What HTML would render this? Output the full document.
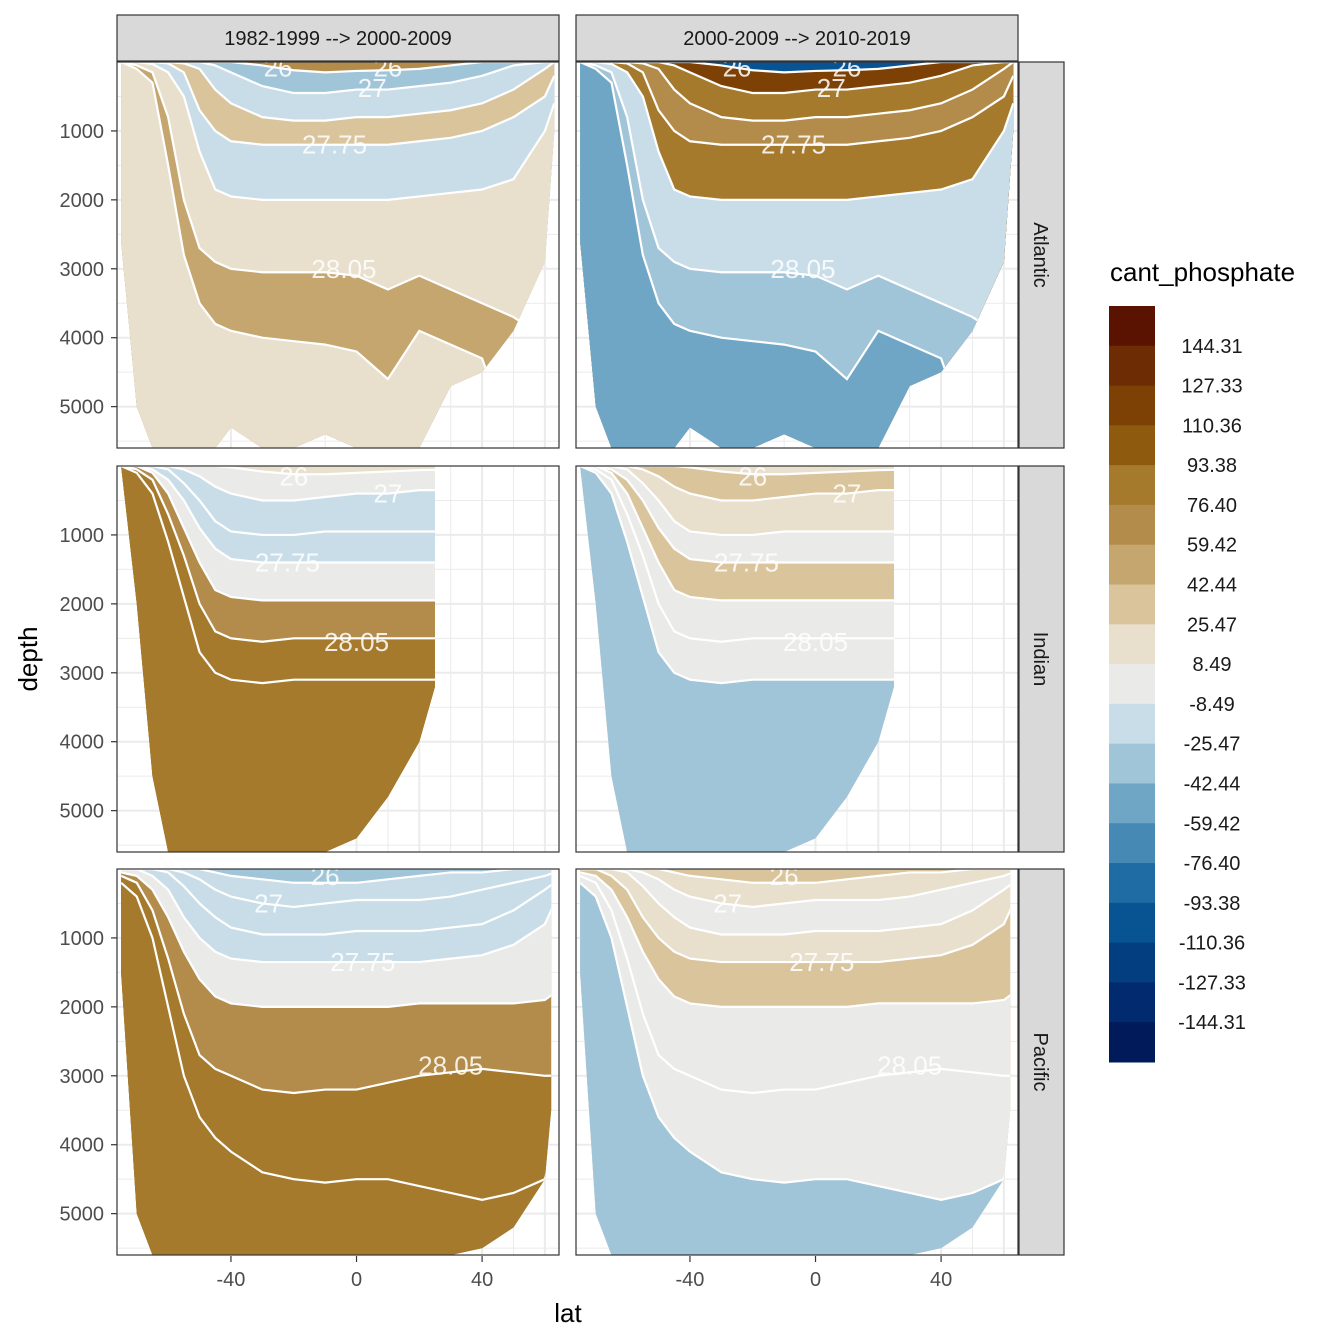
<!DOCTYPE html>
<html><head><meta charset="utf-8">
<style>
body{margin:0;background:#fff;}
svg{display:block;font-family:"Liberation Sans",Arial,sans-serif;}
</style></head>
<body>
<svg id="chart" width="1344" height="1344" viewBox="0 0 1344 1344"></svg>
<script>
const lats = [-75,-70,-65,-60,-55,-50,-45,-40,-30,-20,-10,0,10,20,30,40,50,60,63];
const binBreaks = [144.31,127.33,110.36,93.38,76.40,59.42,42.44,25.47,8.49,-8.49,-25.47,-42.44,-59.42,-76.40,-93.38,-110.36,-127.33,-144.31];
const binLabels = ["144.31","127.33","110.36","93.38","76.40","59.42","42.44","25.47","8.49","-8.49","-25.47","-42.44","-59.42","-76.40","-93.38","-110.36","-127.33","-144.31"];
const binColors = ["#5a1300","#6e2c04","#7e4105","#8e5a0e","#a57a2c","#b38c4b","#c5a66f","#d9c49c","#e8dfcc","#eaeae8","#c9dde8","#a0c4d8","#6fa6c6","#4589b4","#1e6ca3","#085493","#033f80","#022b6f","#011a5a"];
const columns = ["1982-1999 --> 2000-2009","2000-2009 --> 2010-2019"];
const basins = ["Atlantic","Indian","Pacific"];
const xTicks = [-40,0,40];
const yTicks = [1000,2000,3000,4000,5000];

// floors (ocean bottom depth at each lat)
const floorAtl = [2600,5000,5600,5600,5600,5600,5600,5300,5600,5600,5400,5600,5600,5600,4700,4500,3900,2900,1000];
const floorInd = [0,2000,4500,5600,5600,5600,5600,5600,5600,5600,5600,5400,4800,4000,3200,3200,3200,3200,3200];
const floorPac = [1500,5000,5600,5600,5600,5600,5600,5600,5600,5600,5600,5600,5600,5600,5600,5500,5200,4500,3500];

// isopycnal depths per basin
const atlL1 = [0,0,0,0,0,0,0,0,50,120,150,130,120,100,50,0,0,0,0];
const atlL2 = [0,0,0,0,0,0,50,150,350,450,450,400,400,350,300,200,50,0,0];
const atlL3 = [0,0,0,0,20,100,400,600,800,850,850,800,800,750,700,600,400,100,0];
const atlL4 = [0,0,0,20,150,700,1000,1150,1200,1200,1200,1200,1200,1150,1100,1000,800,500,200];
const atlL5 = [0,0,30,150,500,1300,1850,1950,2000,2000,2000,2000,2000,1950,1900,1850,1700,1000,600];
const atlL6 = [0,50,150,800,2000,2700,2900,3000,3050,3050,3050,3100,3300,3100,3300,3500,3700,4000,4500];
const atlL7 = [0,100,300,1500,2800,3500,3800,3900,4000,4050,4100,4200,4600,3900,4100,4300,5600,5600,5600];

const indL1 = [0,0,0,0,0,0,0,20,80,120,120,100,80,60,50,50,50,50,50];
const indL2 = [0,0,0,0,50,150,300,400,500,500,450,400,400,350,350,350,350,350,350];
const indL3 = [0,0,0,50,250,500,800,950,1000,1000,950,950,950,950,950,950,950,950,950];
const indL4 = [0,0,50,200,500,900,1200,1350,1400,1400,1400,1400,1400,1400,1400,1400,1400,1400,1400];
const indL5 = [0,0,100,400,900,1400,1800,1900,1950,1950,1950,1950,1950,1950,1950,1950,1950,1950,1950];
const indL6 = [0,50,200,700,1300,2000,2400,2500,2550,2500,2500,2500,2500,2500,2500,2500,2500,2500,2500];
const indL7 = [0,100,400,1100,1900,2700,3000,3100,3150,3100,3100,3100,3100,3100,3100,3100,3100,3100,3100];

const pacL1 = [0,0,0,0,0,0,50,100,150,200,200,200,150,100,50,50,0,0,0];
const pacL2 = [0,0,0,0,50,150,300,400,500,550,500,450,450,450,400,300,200,100,50];
const pacL3 = [0,0,0,50,250,500,700,850,950,950,950,900,900,900,850,800,600,300,200];
const pacL4 = [0,0,100,300,700,1000,1200,1300,1350,1350,1350,1350,1350,1350,1300,1250,1100,800,500];
const pacL5 = [50,100,300,700,1200,1600,1850,1950,2000,2000,2000,2000,2000,1950,1950,1950,1950,1900,1800];
const pacL6 = [100,200,600,1300,2100,2700,2900,3000,3200,3250,3200,3200,3100,3000,2950,2900,2950,3000,3000];
const pacL7 = [200,400,1000,2000,3000,3600,3900,4100,4400,4500,4550,4500,4500,4600,4700,4800,4700,4500,4000];

// band values: surface band, then band below each isopycnal L1..L7
const valAtlA = [60,-30,-20,30,-15,15,45,25];
const valAtlB = [-100,120,90,60,80,-25,-40,-55];
const valIndA = [15,0,-20,-25,0,60,80,80];
const valIndB = [15,30,15,0,30,0,0,-35];
const valPacA = [-30,-20,-20,-15,0,60,80,80];
const valPacB = [30,20,0,25,30,0,0,-30];

const NS='http://www.w3.org/2000/svg';
const svg=document.getElementById('chart');
function el(tag,attrs,parent){const e=document.createElementNS(NS,tag);for(const k in attrs)e.setAttribute(k,attrs[k]);(parent||svg).appendChild(e);return e;}
function colorFor(v){for(let i=0;i<binBreaks.length;i++){if(v>=binBreaks[i])return binColors[i];}return binColors[binColors.length-1];}

const colX=[117,576], colW=442;
const rowY=[62,466,869], rowH=386;
const latMin=-76.3, latMax=64.5, depMax=5600;
function xs(c,lat){return colX[c]+(lat-latMin)/(latMax-latMin)*colW;}
function ys(r,d){return rowY[r]+d/depMax*rowH;}

const basinData=[
 {floor:floorAtl,lines:[atlL1,atlL2,atlL3,atlL4,atlL5,atlL6,atlL7],vals:[valAtlA,valAtlB],maxLat:63,
  labels:[["26",-25,80],["26",10,80],["27",5,380],["27.75",-7,1200],["28.05",-4,3000]]},
 {floor:floorInd,lines:[indL1,indL2,indL3,indL4,indL5,indL6,indL7],vals:[valIndA,valIndB],maxLat:25,
  labels:[["26",-20,150],["27",10,400],["27.75",-22,1400],["28.05",0,2550]]},
 {floor:floorPac,lines:[pacL1,pacL2,pacL3,pacL4,pacL5,pacL6,pacL7],vals:[valPacA,valPacB],maxLat:62,
  labels:[["26",-10,100],["27",-28,500],["27.75",2,1350],["28.05",30,2850]]}
];

columns.forEach((t,c)=>{
  const g=el('g',{});
  
  
  el('rect',{x:colX[c],y:15,width:colW,height:46,fill:'#d9d9d9',stroke:'#333','stroke-width':1.2},g);
  const tx=el('text',{x:colX[c]+colW/2,y:45,'text-anchor':'middle','font-size':20,fill:'#1a1a1a'},g);tx.textContent=t;
});

for(let r=0;r<3;r++){
  const b=basinData[r];
  const sg=el('g',{});
  
  
  el('rect',{x:1019,y:rowY[r],width:45,height:rowH,fill:'#d9d9d9',stroke:'#333','stroke-width':1.2},sg);
  const st=el('text',{x:0,y:0,'text-anchor':'middle','font-size':20,fill:'#1a1a1a',transform:`translate(1034,${rowY[r]+rowH/2}) rotate(90)`},sg);st.textContent=basins[r];
  for(let c=0;c<2;c++){
    const pg=el('g',{});
    
    
    el('rect',{x:colX[c],y:rowY[r],width:colW,height:rowH,fill:'#fff'},pg);
    for(let lat=-60;lat<=60;lat+=10){const x=xs(c,lat);el('line',{x1:x,x2:x,y1:rowY[r],y2:rowY[r]+rowH,stroke:'#ebebeb','stroke-width':lat%20===0?2:1},pg);}
    for(let d=500;d<depMax;d+=500){const y=ys(r,d);el('line',{x1:colX[c],x2:colX[c]+colW,y1:y,y2:y,stroke:'#ebebeb','stroke-width':d%1000===0?2:1},pg);}
    const cid='clip'+r+'_'+c;
    const cp=el('clipPath',{id:cid},pg);
    const xmax=xs(c,b.maxLat);
    let bottom=[];
    lats.forEach((lat,i)=>{bottom.push([Math.min(xs(c,lat),xmax),ys(r,b.floor[i])]);});
    const poly=[[xs(c,lats[0]),ys(r,0)],[xmax,ys(r,0)]].concat(bottom.reverse());
    el('polygon',{points:poly.map(p=>p.join(',')).join(' ')},cp);
    const fg=el('g',{'clip-path':`url(#${cid})`},pg);
    const vals=b.vals[c];
    const top=el('rect',{x:colX[c],y:rowY[r],width:colW,height:rowH,fill:colorFor(vals[0])},fg);
    
    
    b.lines.forEach((L,k)=>{
      const p=lats.map((lat,i)=>[xs(c,lat),ys(r,L[i])]);
      p.push([xs(c,lats[lats.length-1])+20,ys(r,L[L.length-1])]);
      p.push([xs(c,lats[lats.length-1])+20,ys(r,depMax)]);
      p.push([xs(c,lats[0])-5,ys(r,depMax)]);
      p.push([xs(c,lats[0])-5,ys(r,L[0])]);
      const band=el('polygon',{points:p.map(q=>q.join(',')).join(' '),fill:colorFor(vals[k+1])},fg);
      
      
    });
    b.lines.forEach((L,k)=>{
      const p=lats.map((lat,i)=>[xs(c,lat),ys(r,L[i])]);
      const ln=el('polyline',{points:p.map(q=>q.join(',')).join(' '),fill:'none',stroke:'#fff','stroke-width':2.2},fg);
      
      
    });
    b.labels.forEach(l=>{
      const t=el('text',{x:xs(c,l[1]),y:ys(r,l[2])+9,'text-anchor':'middle','font-size':26,fill:'#fff','fill-opacity':0.85},fg);t.textContent=l[0];
      
      
    });
    el('rect',{x:colX[c],y:rowY[r],width:colW,height:rowH,fill:'none',stroke:'#333','stroke-width':1.2},pg);
  }
  yTicks.forEach(d=>{
    const y=ys(r,d);
    el('line',{x1:111,x2:117,y1:y,y2:y,stroke:'#333','stroke-width':1.2});
    const t=el('text',{x:104,y:y+7,'text-anchor':'end','font-size':20,fill:'#4d4d4d'});t.textContent=d;
    
    
  });
}
for(let c=0;c<2;c++){
  xTicks.forEach(v=>{
    const x=xs(c,v);
    el('line',{x1:x,x2:x,y1:1256,y2:1262,stroke:'#333','stroke-width':1.2});
    const t=el('text',{x:x,y:1286,'text-anchor':'middle','font-size':20,fill:'#4d4d4d'});t.textContent=v;
    
    
  });
}
const xt=el('text',{x:568,y:1322,'text-anchor':'middle','font-size':26,fill:'#000'});xt.textContent='lat';

const yt=el('text',{x:0,y:0,'text-anchor':'middle','font-size':26,fill:'#000',transform:'translate(37,659) rotate(-90)'});yt.textContent='depth';


const lg=el('g',{});


const lt=el('text',{x:1110,y:281,'font-size':26,fill:'#000'},lg);lt.textContent='cant_phosphate';
const binH=756/binColors.length;
binColors.forEach((col,i)=>{
  const rct=el('rect',{x:1109,y:306+i*binH,width:46,height:binH+0.5,fill:col},lg);
  
  
});
binLabels.forEach((l,i)=>{
  const t=el('text',{x:1212,y:306+(i+1)*binH+7,'text-anchor':'middle','font-size':20,fill:'#1a1a1a'},lg);t.textContent=l;
  
  
});
</script>
</body></html>
